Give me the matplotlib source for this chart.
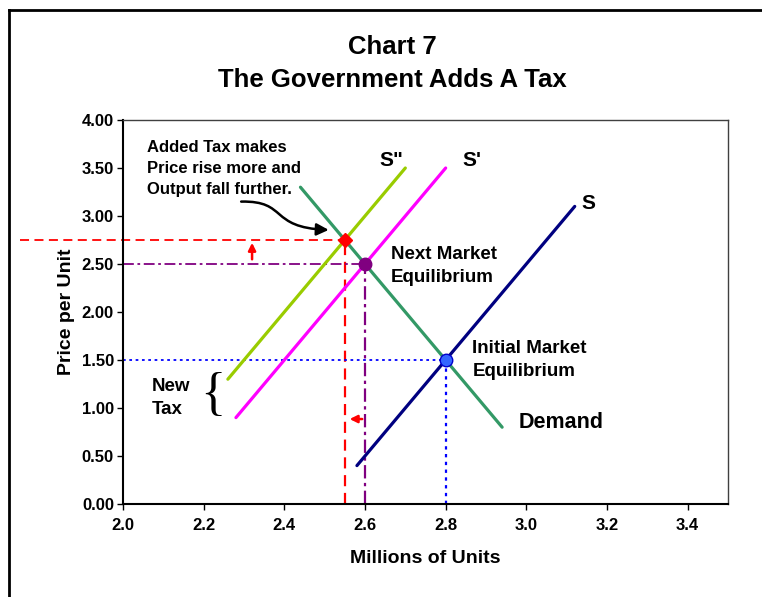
import numpy as np
import matplotlib.pyplot as plt
from matplotlib.lines import Line2D
from matplotlib.patches import FancyArrowPatch
from matplotlib.path import Path

plt.rcParams['font.family'] = ['Liberation Sans', 'DejaVu Sans']
plt.rcParams['font.weight'] = 'bold'
plt.rcParams['axes.labelweight'] = 'bold'

# Curve end points (quantity, price)
supply_x = [2.58, 3.12]
supply_y = [0.40, 3.10]
supply1_x = [2.28, 2.80]
supply1_y = [0.90, 3.50]
supply2_x = [2.26, 2.70]
supply2_y = [1.30, 3.50]
demand_x = [2.44, 2.94]
demand_y = [3.30, 0.80]

# Equilibrium points
eq_initial = (2.80, 1.50)
eq_next = (2.60, 2.50)
eq_tax = (2.55, 2.75)

x_ticks = [2.0, 2.2, 2.4, 2.6, 2.8, 3.0, 3.2, 3.4]
y_ticks = [0.0, 0.5, 1.0, 1.5, 2.0, 2.5, 3.0, 3.5, 4.0]

fig = plt.figure(figsize=(7.62, 5.97), dpi=100)
ax = fig.add_axes([123 / 762, 1 - 504 / 597, 605 / 762, 384 / 597])

# Outer frame (open on right and bottom)
fig.add_artist(Line2D([9 / 762, 9 / 762], [0, 1 - 10 / 597], transform=fig.transFigure,
                      color='black', lw=2))
fig.add_artist(Line2D([9 / 762, 1], [1 - 10 / 597, 1 - 10 / 597], transform=fig.transFigure,
                      color='black', lw=2))

# Guide lines to the axes
ax.plot([1.745, eq_tax[0]], [eq_tax[1]] * 2, color='#FF0000', lw=1.3, ls=(0, (5, 3)), clip_on=False)
ax.plot([eq_tax[0]] * 2, [0, eq_tax[1]], color='#FF0000', lw=1.6, ls=(0, (5, 3)))
ax.plot([2.0, eq_next[0]], [eq_next[1]] * 2, color='#800080', lw=1.3, ls=(0, (6, 2, 1.5, 2)))
ax.plot([eq_next[0]] * 2, [0, eq_next[1]], color='#800080', lw=1.6, ls=(0, (6, 2, 1.5, 2)))
ax.plot([2.0, eq_initial[0]], [eq_initial[1]] * 2, color='#0000FF', lw=1.3, ls=(0, (1.5, 2)))
ax.plot([eq_initial[0]] * 2, [0, eq_initial[1]], color='#0000FF', lw=1.6, ls=(0, (1.5, 2)))

# Supply and demand curves
ax.plot(supply_x, supply_y, color='#000080', lw=2.3, solid_capstyle='round')
ax.plot(supply1_x, supply1_y, color='#FF00FF', lw=2.3, solid_capstyle='round')
ax.plot(supply2_x, supply2_y, color='#99CC00', lw=2.3, solid_capstyle='round')
ax.plot(demand_x, demand_y, color='#339966', lw=2.3, solid_capstyle='round')

# Equilibrium markers
ax.plot(*eq_tax, marker='D', ms=7, color='#FF0000', zorder=5)
ax.plot(*eq_next, marker='o', ms=9, color='#800080', zorder=5)
ax.plot(*eq_initial, marker='o', ms=9, mfc='#3366FF', mec='#0000CC', mew=1, zorder=5)

# Small red shift arrows
ax.annotate('', xy=(2.32, 2.75), xytext=(2.32, 2.52),
            arrowprops=dict(arrowstyle='-|>', color='#FF0000', lw=1.8, mutation_scale=11))
ax.annotate('', xy=(2.555, 0.885), xytext=(2.60, 0.885),
            arrowprops=dict(arrowstyle='-|>', color='#FF0000', lw=1.8, mutation_scale=11))

# Curved pointer from the note to the new equilibrium
verts = [(2.293, 3.15), (2.41, 3.16), (2.36, 2.88), (2.51, 2.855)]
codes = [Path.MOVETO, Path.CURVE4, Path.CURVE4, Path.CURVE4]
ax.add_patch(FancyArrowPatch(path=Path(verts, codes), arrowstyle='-|>', color='black',
                             lw=1.8, mutation_scale=18))

# Labels
ax.text(2.06, 3.79, 'Added Tax makes\nPrice rise more and\nOutput fall further.',
        fontsize=12, va='top', ha='left', linespacing=1.5)
ax.text(2.665, 3.58, 'S"', fontsize=15, ha='center', va='center')
ax.text(2.865, 3.58, "S'", fontsize=15, ha='center', va='center')
ax.text(3.155, 3.13, 'S', fontsize=15, ha='center', va='center')
ax.text(2.665, 2.48, 'Next Market\nEquilibrium', fontsize=13.5, ha='left', va='center', linespacing=1.45)
ax.text(2.866, 1.50, 'Initial Market\nEquilibrium', fontsize=13.5, ha='left', va='center', linespacing=1.45)
ax.text(2.98, 0.85, 'Demand', fontsize=15.5, ha='left', va='center')
ax.text(2.072, 1.10, 'New\nTax', fontsize=13.5, ha='left', va='center', linespacing=1.45)
ax.text(2.222, 1.12, '{', fontsize=38, fontweight='light', family='Liberation Serif',
        ha='center', va='center')

ax.set_xlim(2.0, 3.5)
ax.set_ylim(0, 4.0)
ax.set_xticks(x_ticks)
ax.set_xticklabels([f'{v:.1f}' for v in x_ticks], fontsize=12)
ax.set_yticks(y_ticks)
ax.set_yticklabels([f'{v:.2f}' for v in y_ticks], fontsize=12)
ax.tick_params(direction='out', length=4, width=1)
ax.tick_params(axis='y', pad=2.5)
ax.tick_params(axis='x', pad=6)

for side in ['left', 'bottom']:
    ax.spines[side].set_linewidth(1.5)
for side in ['top', 'right']:
    ax.spines[side].set_linewidth(1)
    ax.spines[side].set_color('#404040')

ax.set_xlabel('Millions of Units', fontsize=14, labelpad=12)
ax.set_ylabel('Price per Unit', fontsize=14, labelpad=5)

fig.text(392 / 762, 1 - 47 / 597, 'Chart 7', fontsize=18.5, ha='center', va='center')
fig.text(392 / 762, 1 - 80 / 597, 'The Government Adds A Tax', fontsize=18.5, ha='center', va='center')

fig.savefig('out.png', dpi=100)
